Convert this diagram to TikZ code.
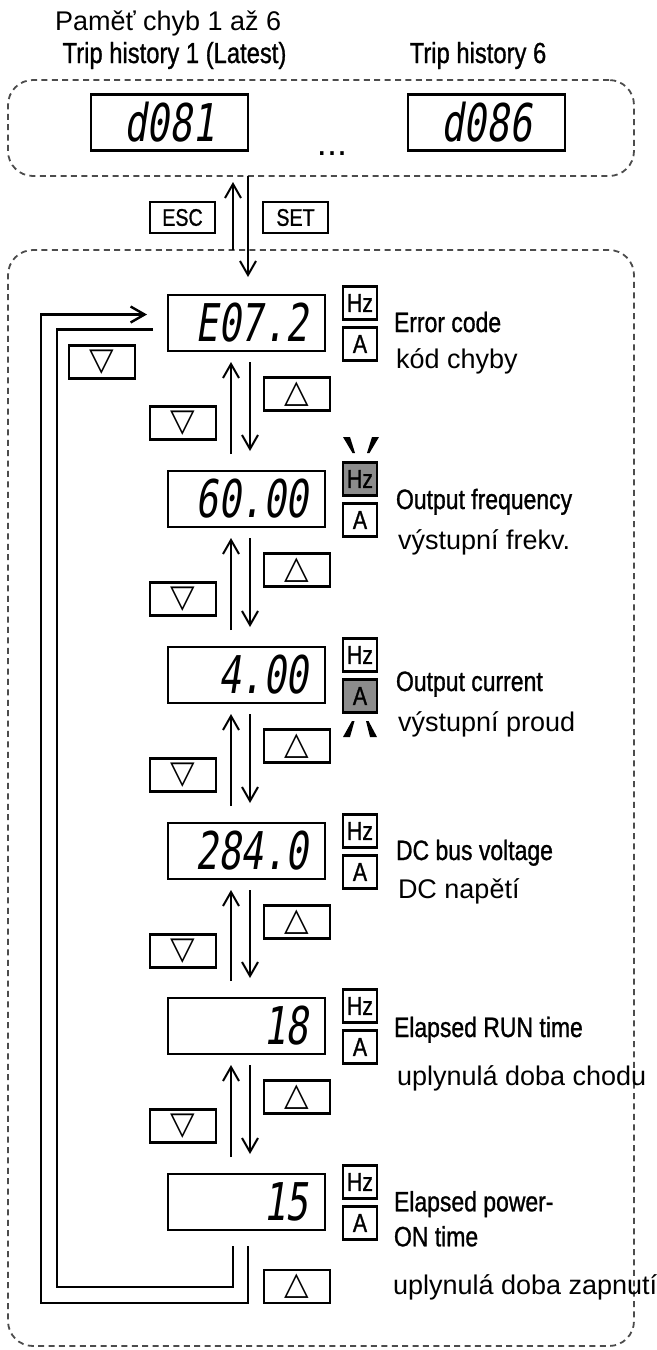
\documentclass[tikz,border=0pt]{standalone}
\usepackage{fontspec}
\setmainfont{Liberation Sans}
\newfontfamily\czfam{Liberation Sans}
\newfontfamily\cnfam[FakeStretch=0.82,FakeBold=1]{Liberation Sans}
\newfontfamily\segfam[FakeStretch=0.72,FakeSlant=0.15]{DejaVu Sans Mono}
\newfontfamily\symfam{DejaVu Sans}
\newcommand\myCz{\czfam\fontsize{13.5pt}{16pt}\selectfont}
\newcommand\myEn{\cnfam\fontsize{14pt}{17.5pt}\selectfont}
\newcommand\myTitle{\cnfam\fontsize{14.5pt}{16pt}\selectfont}
\newcommand\mySeg{\segfam\fontsize{26pt}{26pt}\selectfont}
\newcommand\myUnit{\cnfam\fontsize{13pt}{13pt}\selectfont}
\newcommand\myKey{\cnfam\fontsize{12pt}{12pt}\selectfont}
\newcommand\mySym{\symfam\fontsize{16pt}{16pt}\selectfont}
\usetikzlibrary{arrows.meta,calc}
\begin{document}
\begin{tikzpicture}[x=0.5pt,y=-0.5pt,
  every node/.style={inner sep=0pt,outer sep=0pt},
  dbox/.style={draw=black!70,dash pattern=on 3pt off 2.2pt,line width=0.9pt,rounded corners=12.5pt,minimum width=313pt},
  disp/.style={draw,line width=1.2pt,minimum width=78.5pt,minimum height=28pt,font=\mySeg},
  rdisp/.style={disp,text width=62pt,align=right},
  unitbox/.style={draw,line width=1.2pt,minimum width=17pt,minimum height=16.5pt,font=\myUnit},
  litbox/.style={unitbox,fill=black!45},
  keybox/.style={draw,line width=1.2pt,minimum width=33pt,minimum height=16.5pt,font=\mySym},
  txtkey/.style={draw,line width=1.2pt,minimum width=32.5pt,minimum height=15.5pt,font=\myKey},
  enlab/.style={anchor=base west,font=\myEn},
  czlab/.style={anchor=base west,font=\myCz},
  arr/.style={line width=1pt,-{Straight Barb[length=7pt,width=8pt]}},
  looppath/.style={line width=1.2pt},
  blink/.style={fill=black}
]
\useasboundingbox (0,0) rectangle (657,1350);

% dashed groups
\node[dbox,minimum height=48pt] (topbox) at (321,128) {};
\node[dbox,minimum height=548pt] (lowbox) at (321,798) {};

% titles
\node[anchor=base west,font=\myCz] (t0) at (55,30) {Paměť chyb 1 až 6};
\node[anchor=base,font=\myTitle] (t1) at (174.5,63) {Trip history 1 (Latest)};
\node[anchor=base,font=\myTitle] (t6) at (478,63) {Trip history 6};

% trip history displays
\node[disp] (d1) at (169.5,122.5) {d081};
\node[disp] (d6) at (486.5,122.5) {d086};
\node[anchor=base,font=\fontsize{18pt}{18pt}\selectfont] (dots) at (332,155) {...};

% ESC / SET
\node[txtkey] (esc) at (182.5,217.5) {ESC};
\node[txtkey] (set) at (295.5,217.5) {SET};

% monitor displays
\node[rdisp] (e1) at (246.5,323) {E07.2};
\node[rdisp] (e2) at (246.5,499) {60.00};
\node[rdisp] (e3) at (246.5,675) {4.00};
\node[rdisp] (e4) at (246.5,851) {284.0};
\node[rdisp] (e5) at (246.5,1026) {18};
\node[rdisp] (e6) at (246.5,1202) {15};

% Hz / A indicators
\node[unitbox] (hz1) at (360,303) {Hz};
\node[unitbox] (a1)  at (360,344) {A};
\node[litbox]  (hz2) at (360,479) {Hz};
\node[unitbox] (a2)  at (360,520) {A};
\node[unitbox] (hz3) at (360,655) {Hz};
\node[litbox]  (a3)  at (360,696) {A};
\node[unitbox] (hz4) at (360,831) {Hz};
\node[unitbox] (a4)  at (360,872) {A};
\node[unitbox] (hz5) at (360,1006) {Hz};
\node[unitbox] (a5)  at (360,1047) {A};
\node[unitbox] (hz6) at (360,1182) {Hz};
\node[unitbox] (a6)  at (360,1223) {A};

% blinking marks
\fill[blink] (343,437) -- (350,437) -- (355,453) -- (352.5,453) -- cycle;
\fill[blink] (372,437) -- (379,437) -- (369.5,453) -- (367,453) -- cycle;
\fill[blink] (352,721) -- (354.5,721) -- (350,737) -- (343,737) -- cycle;
\fill[blink] (366,721) -- (368.5,721) -- (377,737) -- (370,737) -- cycle;

% labels
\node[enlab] (en1) at (394,332) {Error code};
\node[czlab] (cz1) at (396,368) {kód chyby};
\node[enlab] (en2) at (396,509) {Output frequency};
\node[czlab] (cz2) at (398,549) {výstupní frekv.};
\node[enlab] (en3) at (396,691) {Output current};
\node[czlab] (cz3) at (398,731) {výstupní proud};
\node[enlab] (en4) at (396,860) {DC bus voltage};
\node[czlab] (cz4) at (398,898) {DC napětí};
\node[enlab] (en5) at (394,1037) {Elapsed RUN time};
\node[czlab] (cz5) at (397,1085) {uplynulá doba chodu};
\node[enlab,anchor=north west,align=left] (en6) at (394,1191) {Elapsed power-\\ON time};
\node[czlab] (cz6) at (393,1294) {uplynulá doba zapnutí};

% keys between displays
\node[keybox] (up1) at (297,394) {△};
\node[keybox] (dn1) at (183,423) {\raisebox{1.5pt}{▽}};
\node[keybox] (up2) at (297,570) {△};
\node[keybox] (dn2) at (183,599) {\raisebox{1.5pt}{▽}};
\node[keybox] (up3) at (297,746) {△};
\node[keybox] (dn3) at (183,775) {\raisebox{1.5pt}{▽}};
\node[keybox] (up4) at (297,922) {△};
\node[keybox] (dn4) at (183,951) {\raisebox{1.5pt}{▽}};
\node[keybox] (up5) at (297,1097) {△};
\node[keybox] (dn5) at (183,1126) {\raisebox{1.5pt}{▽}};
\node[keybox] (up6) at (297,1286.5) {△};
\node[keybox] (dn0) at (102,362) {\raisebox{1.5pt}{▽}};

% ESC / SET arrows
\draw[arr] ($(esc.east |- lowbox.north)+(18,0)$) -- ($(esc.east |- topbox.south)+(18,6)$);
\draw[arr] ($(set.west |- topbox.south)+(-15,0)$) -- ($(set.west |- e1.north)+(-15,-18)$);

% arrows between displays
\foreach \a/\b in {e1/e2,e2/e3,e3/e4,e4/e5,e5/e6}{
  \draw[arr] ($(\b.north)+(-15.5,-17)$) -- ($(\a.south)+(-15.5,11)$);
  \draw[arr] ($(\a.south)+(3.5,11)$) -- ($(\b.north)+(3.5,-20)$);
}

% return loops
\draw[looppath,-{Straight Barb[length=7pt,width=8pt]}]
  ($(e6.south)+(1.5,16)$) |- (41,1303) |- ($(e1.west)+(-21,-8.5)$);
\draw[looppath]
  ($(e1.west)+(-15,6.5)$) -| (57,1287) -| ($(e6.south)+(-13.5,16)$);
\end{tikzpicture}
\end{document}
